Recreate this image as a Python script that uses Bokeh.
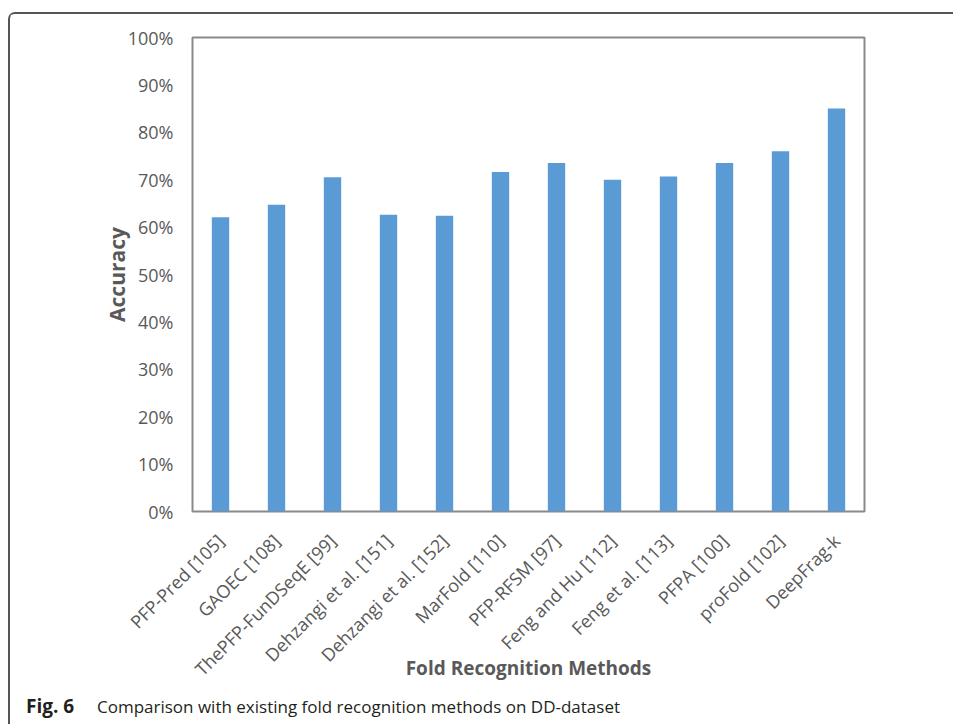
from math import pi
from bokeh.plotting import figure
from bokeh.layouts import column
from bokeh.models import Range1d, FactorRange, FixedTicker, PrintfTickFormatter, ColumnDataSource, Div
from bokeh.embed import file_html
from bokeh.resources import INLINE

# ---- data ----
methods = ["PFP-Pred [105]", "GAOEC [108]", "ThePFP-FunDSeqE [99]", "Dehzangi et al. [151]",
           "Dehzangi et al. [152]", "MarFold [110]", "PFP-RFSM [97]", "Feng and Hu [112]",
           "Feng et al. [113]", "PFPA [100]", "proFold [102]", "DeepFrag-k"]
accuracy = [62.1, 64.7, 70.5, 62.6, 62.4, 71.6, 73.5, 70.0, 70.7, 73.5, 76.0, 85.0]
y_ticks = [0, 10, 20, 30, 40, 50, 60, 70, 80, 90, 100]
x_title = "Fold Recognition Methods"
y_title = "Accuracy"
caption_bold = "Fig. 6"
caption_text = "Comparison with existing fold recognition methods on DD-dataset"

FONT = "Open Sans"
GREY = "#595959"

source = ColumnDataSource(data=dict(method=methods, acc=accuracy))

W, H1, H2 = 942, 676, 30
p = figure(width=W, height=H1, x_range=FactorRange(*methods), y_range=Range1d(0, 100),
           output_backend="svg", toolbar_location=None,
           min_border_left=182, min_border_right=88, min_border_top=23, min_border_bottom=H1 - 497)

p.background_fill_color = "white"
p.border_fill_color = "white"
p.outline_line_color = "#8a8a8a"
p.outline_line_width = 2

p.vbar(x="method", top="acc", width=0.31, source=source, fill_color="#5B9BD5", line_color=None)

p.xgrid.visible = False
p.ygrid.visible = False

for ax in (p.xaxis[0], p.yaxis[0]):
    ax.axis_line_color = None
    ax.major_tick_line_color = None
    ax.minor_tick_line_color = None
    ax.major_tick_out = 0
    ax.major_tick_in = 0
    ax.major_label_text_font = FONT
    ax.major_label_text_font_size = "18px"
    ax.major_label_text_color = GREY
    ax.axis_label_text_font = FONT
    ax.axis_label_text_font_style = "bold"
    ax.axis_label_text_color = GREY

p.yaxis[0].ticker = FixedTicker(ticks=y_ticks)
p.yaxis[0].formatter = PrintfTickFormatter(format="%d%%")
p.yaxis[0].major_label_standoff = 19
p.yaxis[0].axis_label = y_title
p.yaxis[0].axis_label_text_font_size = "21px"
p.yaxis[0].axis_label_standoff = -6

p.xaxis[0].major_label_orientation = pi / 4
p.xaxis[0].major_label_standoff = 26
p.xaxis[0].axis_label = x_title
p.xaxis[0].axis_label_text_font_size = "19px"
p.xaxis[0].axis_label_standoff = -37

caption = Div(
    text=(f'<span style="display:inline-block;width:71px;font-weight:bold;font-size:19px">'
          f'{caption_bold}</span>{caption_text}'),
    width=W, height=H2,
    styles={"font-family": "'Open Sans'", "font-size": "17px", "color": "#231f20",
            "line-height": "23px", "padding-top": "0px", "padding-left": "11px",
            "box-sizing": "border-box", "white-space": "nowrap"})

layout = column(p, caption, spacing=0)
layout.styles = {"margin-left": "8px", "margin-top": "12px",
                 "border-top": "2px solid #555555", "border-left": "2px solid #555555",
                 "border-top-left-radius": "7px"}

open("out.html", "w").write(file_html(layout, INLINE))
